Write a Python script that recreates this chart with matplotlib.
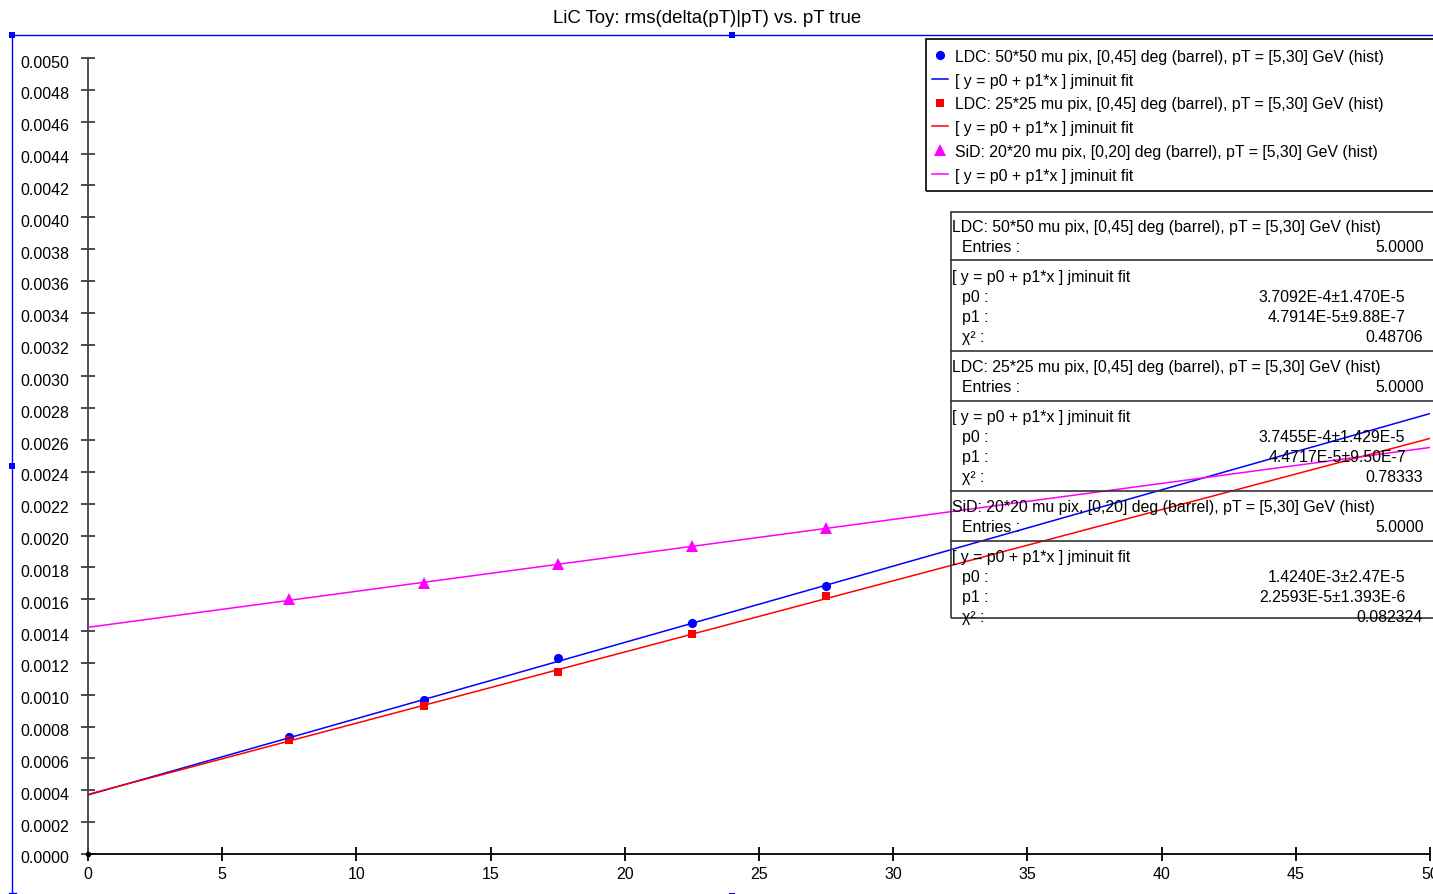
import matplotlib
matplotlib.use("Agg")
import matplotlib.pyplot as plt
from matplotlib.lines import Line2D
from matplotlib.patches import Rectangle
from matplotlib.transforms import ScaledTranslation
import numpy as np

plt.rcParams['font.family'] = ['Liberation Sans', 'DejaVu Sans']

# ---- data ----
pt_true = [7.5, 12.5, 17.5, 22.5, 27.5]

ldc50_rms = [7.35e-4, 9.67e-4, 1.230e-3, 1.451e-3, 1.683e-3]
ldc25_rms = [7.16e-4, 9.30e-4, 1.143e-3, 1.382e-3, 1.621e-3]
sid20_rms = [1.602e-3, 1.702e-3, 1.822e-3, 1.935e-3, 2.048e-3]

ldc50_fit = (3.7092e-4, 4.7914e-5)
ldc25_fit = (3.7455e-4, 4.4717e-5)
sid20_fit = (1.4240e-3, 2.2593e-5)

series_names = [
    "LDC: 50*50 mu pix, [0,45] deg (barrel), pT = [5,30] GeV (hist)",
    "LDC: 25*25 mu pix, [0,45] deg (barrel), pT = [5,30] GeV (hist)",
    "SiD: 20*20 mu pix, [0,20] deg (barrel), pT = [5,30] GeV (hist)",
]
fit_name = "[ y = p0 + p1*x ] jminuit fit"
entries = ["5.0000", "5.0000", "5.0000"]
p0_text = ["3.7092E-4\u00b11.470E-5", "3.7455E-4\u00b11.429E-5", "1.4240E-3\u00b12.47E-5"]
p1_text = ["4.7914E-5\u00b19.88E-7", "4.4717E-5\u00b19.50E-7", "2.2593E-5\u00b11.393E-6"]
chi2_text = ["0.48706", "0.78333", "0.082324"]

colors = ["#0000ff", "#ff0000", "#ff00ff"]
markers = ["o", "s", "^"]
msizes = [6.6, 6.3, 8.0]

title = "LiC Toy: rms(delta(pT)|pT) vs. pT true"
x_ticks = [0, 5, 10, 15, 20, 25, 30, 35, 40, 45, 50]
y_ticks = np.arange(0, 0.00501, 0.0002)

W, H = 1433, 895
FS = 11.4
fig = plt.figure(figsize=(W / 100, H / 100), dpi=100)


def fx(px):
    return px / W


def fy(py):
    return 1 - py / H


ax = fig.add_axes([fx(88), fy(855), fx(1430) - fx(88), fy(59) - fy(855)])
ax.set_xlim(0, 50)
ax.set_ylim(0, 0.005)
ax.patch.set_alpha(0)

xs = np.array([0.0, 50.0])
for ys, fit, c, m, ms in zip([ldc50_rms, ldc25_rms, sid20_rms],
                             [ldc50_fit, ldc25_fit, sid20_fit],
                             colors, markers, msizes):
    ax.plot(pt_true, ys, linestyle="none", marker=m, ms=ms, color=c,
            markeredgewidth=0, zorder=3)
    ax.plot(xs, fit[0] + fit[1] * xs, color=c, lw=1.1, zorder=4)

for s in ["top", "right"]:
    ax.spines[s].set_visible(False)
ax.spines["left"].set_color("#404040")
ax.spines["left"].set_linewidth(1.3)
ax.spines["bottom"].set_color("black")
ax.spines["bottom"].set_linewidth(1.3)

ax.set_xticks(x_ticks)
ax.set_xticklabels([str(v) for v in x_ticks])
ax.set_yticks(y_ticks)
ax.set_yticklabels(["%.4f" % v for v in y_ticks])
ax.tick_params(axis="y", direction="inout", length=10, width=1.3,
               color="#404040", labelsize=11.5, pad=8.5, labelcolor="black")
ax.tick_params(axis="x", direction="inout", length=10, width=1.3,
               color="black", labelsize=11.5, pad=4.0, labelcolor="black")
# y labels sit slightly below their ticks
shift = ScaledTranslation(0, -2.5 / 100, fig.dpi_scale_trans)
for lab in ax.get_yticklabels():
    lab.set_transform(lab.get_transform() + shift)
ax.plot([0], [0], marker="o", ms=3, color="black", clip_on=False, zorder=5)

fig.text(fx(707), fy(23), title, ha="center", va="baseline", fontsize=13.4)

# ---- selection frame ----
fl, ft, fr, fb = 12, 36, 1452, 897
fig.add_artist(Line2D([fx(fl), fx(fr)], [fy(ft), fy(ft)], color="#0000ff", lw=1.0,
                      transform=fig.transFigure))
fig.add_artist(Line2D([fx(fl), fx(fl)], [fy(ft), fy(fb)], color="#0000ff", lw=1.0,
                      transform=fig.transFigure))
hs = 6
for hx, hy in [(fl, ft), ((fl + fr) / 2, ft), (fl, 467), ((fl + fr) / 2, fb)]:
    fig.add_artist(Rectangle((fx(hx - hs / 2), fy(hy + hs / 2)), hs / W, hs / H,
                             transform=fig.transFigure, color="#0000ff", lw=0))
fig.add_artist(Line2D([fx(9), fx(16)], [fy(894), fy(894)], color="#0000ff", lw=1.0,
                      transform=fig.transFigure))

# ---- legend ----
fig.add_artist(Rectangle((fx(926), fy(192)), fx(1460) - fx(926), fy(40) - fy(192),
                         transform=fig.transFigure, fill=False, ec="black", lw=1.2))
leg_base = [62, 85.75, 109.5, 133.25, 157, 180.75]
for i in range(3):
    yb = leg_base[2 * i]
    ym = yb - 6
    fig.add_artist(Line2D([fx(940)], [fy(ym)], marker=markers[i], ms=msizes[i],
                          markeredgewidth=0, color=colors[i], linestyle="none",
                          transform=fig.transFigure))
    fig.text(fx(955), fy(yb), series_names[i], ha="left", va="baseline", fontsize=FS)
    yb2 = leg_base[2 * i + 1]
    ym2 = yb2 - 6
    fig.add_artist(Line2D([fx(932), fx(948)], [fy(ym2), fy(ym2)], color=colors[i],
                          lw=1.1, transform=fig.transFigure))
    fig.text(fx(955), fy(yb2), fit_name, ha="left", va="baseline", fontsize=FS)

# ---- statistics box ----
box_top, box_bot = 213, 619
sep_lines = [261, 352, 402, 492, 542]
for i in range(3):
    y0 = 232 + 140 * i
    fig.text(fx(952), fy(y0), series_names[i], ha="left", va="baseline", fontsize=FS)
    fig.text(fx(962), fy(y0 + 20), "Entries :", ha="left", va="baseline", fontsize=FS)
    fig.text(fx(1424), fy(y0 + 20), entries[i], ha="right", va="baseline", fontsize=FS)
    y1 = y0 + 50
    fig.text(fx(952), fy(y1), fit_name, ha="left", va="baseline", fontsize=FS)
    fig.text(fx(962), fy(y1 + 20), "p0 :", ha="left", va="baseline", fontsize=FS)
    fig.text(fx(1405), fy(y1 + 20), p0_text[i], ha="right", va="baseline", fontsize=FS)
    fig.text(fx(962), fy(y1 + 40), "p1 :", ha="left", va="baseline", fontsize=FS)
    fig.text(fx(1406), fy(y1 + 40), p1_text[i], ha="right", va="baseline", fontsize=FS)
    fig.text(fx(962), fy(y1 + 60), "\u03c7\u00b2 :", ha="left", va="baseline", fontsize=FS)
    fig.text(fx(1423), fy(y1 + 60), chi2_text[i], ha="right", va="baseline", fontsize=FS)

fig.add_artist(Rectangle((fx(951), fy(box_bot)), fx(1460) - fx(951), fy(box_top) - fy(box_bot),
                         transform=fig.transFigure, fill=False, ec="#333333", lw=1.2))
for yl in sep_lines:
    fig.add_artist(Line2D([fx(951), fx(1460)], [fy(yl), fy(yl)], color="#333333", lw=1.2,
                          transform=fig.transFigure))

fig.savefig("out.png", dpi=100)
